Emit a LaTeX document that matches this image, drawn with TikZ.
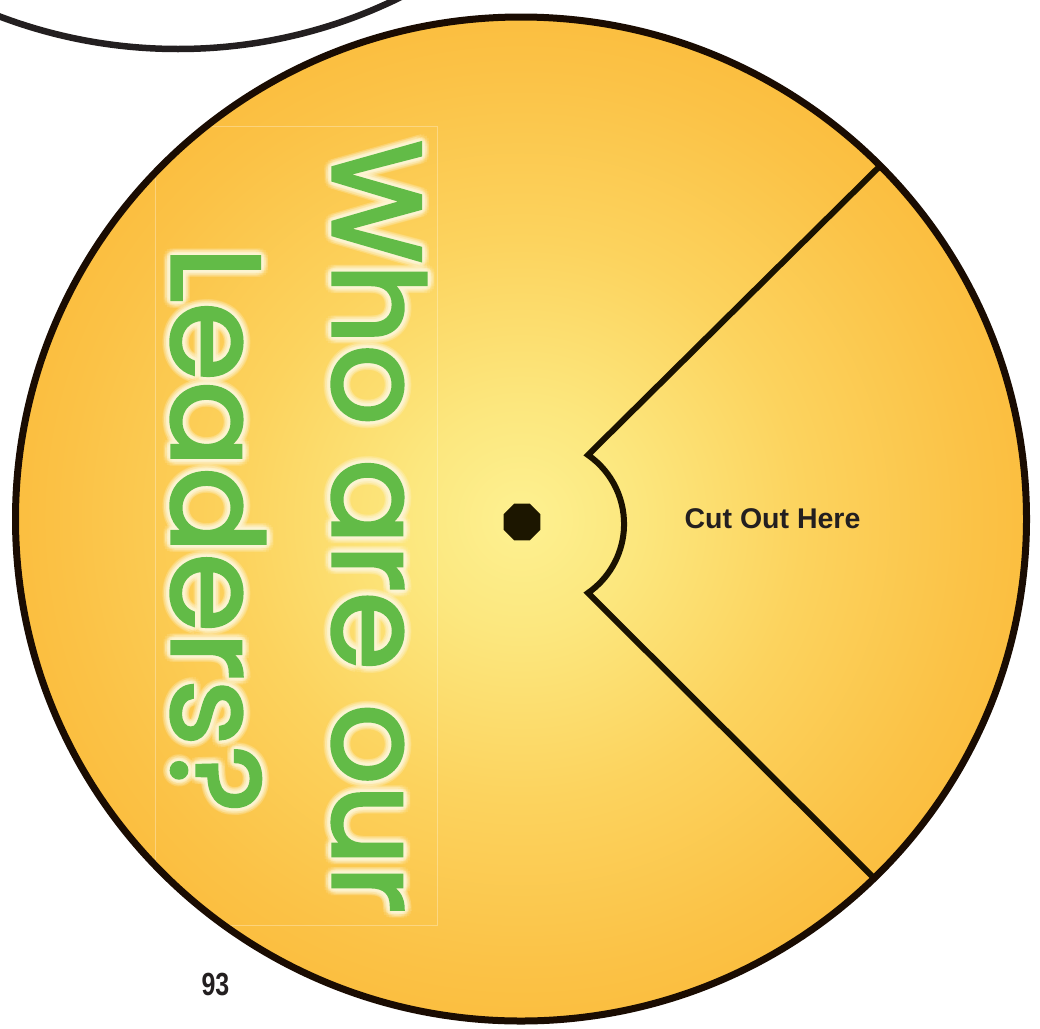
\documentclass[tikz,border=0pt]{standalone}
\usepackage{fontspec}
\setmainfont{Liberation Sans}
\newfontfamily\wfont{Poppins}[FakeBold=2.5]
\usetikzlibrary{shapes.geometric}
\definecolor{rimc}{HTML}{1A0C02}
\definecolor{arcc}{HTML}{231F20}
\definecolor{leafg}{HTML}{62BB47}
\definecolor{glowc}{HTML}{FFF7D6}
\definecolor{inkc}{HTML}{231F20}
\definecolor{dotc}{HTML}{1C1600}
\definecolor{wedgec}{HTML}{1A1200}
\definecolor{gza}{HTML}{FDF191}
\definecolor{gzb}{HTML}{FCE77E}
\definecolor{gzc}{HTML}{FCD35E}
\definecolor{gzd}{HTML}{FBC246}
\definecolor{gze}{HTML}{FAB835}
\definecolor{gzf}{HTML}{FAB532}
\pgfdeclareradialshading{wheelglow}{\pgfpoint{0bp}{0bp}}{color(0bp)=(gza); color(5.7bp)=(gzb); color(14bp)=(gzc); color(22.6bp)=(gzd); color(29.7bp)=(gze); color(35.4bp)=(gzf); color(50bp)=(gzf)}
\newcommand{\WhoLine}{\resizebox{772pt}{93pt}{\wfont Who are our}}
\newcommand{\LeadLine}{\resizebox{565pt}{93pt}{\wfont Leaders?}}
\begin{document}
\begin{tikzpicture}[x=1pt,y=-1pt,
  wtxt/.style={rotate=-90, anchor=base west, inner sep=0pt, outer sep=0pt},
  wedgeline/.style={draw=wedgec, line width=6pt, line join=miter},
  rimline/.style={draw=rimc, line width=7pt}]
\useasboundingbox (0,0) rectangle (1040,1028);
\fill[white] (0,0) rectangle (1040,1028);
% neighbouring wheel
\draw[arcc, line width=6.5pt] (178,-454) circle[radius=503];
% wheel face
\shade[shading=wheelglow] (521,519) ellipse[x radius=503, y radius=500];
\draw[white, opacity=0.3, line width=0.8pt] (155,126) rectangle (437,925);
% glow
\foreach \a in {0,24,...,336}{
  \node[wtxt, text=glowc, text opacity=0.14, name=gwa\a] at ([shift={(\a:7)}]333,140) {\WhoLine};
  \node[wtxt, text=glowc, text opacity=0.14, name=gla\a] at ([shift={(\a:7)}]172,247) {\LeadLine};
}
\foreach \a in {0,24,...,336}{
  \node[wtxt, text=glowc, text opacity=0.3, name=gwb\a] at ([shift={(\a:3.5)}]333,140) {\WhoLine};
  \node[wtxt, text=glowc, text opacity=0.3, name=glb\a] at ([shift={(\a:3.5)}]172,247) {\LeadLine};
}
\node[wtxt, text=leafg] (who) at (333,140) {\WhoLine};
\node[wtxt, text=leafg] (lead) at (172,247) {\LeadLine};
% wedge
\coordinate (wt) at (878,168);
\coordinate (wa) at (588,455);
\coordinate (wl) at (874,878);
\draw[wedgeline] (wt) -- (wa) arc[start angle=-55.2, end angle=55.2, radius=84] -- (wl);
% hub
\node[regular polygon, regular polygon sides=8, minimum size=40pt, fill=dotc, inner sep=0pt] (hub) at (522,522) {};
% rim
\draw[rimline] (521,519) ellipse[x radius=505.5, y radius=502];
% labels
\node[font=\bfseries\fontsize{28.5}{30}\selectfont, text=inkc, anchor=base, inner sep=0pt] (cut) at (772.5,528) {Cut Out Here};
\node[font=\bfseries\fontsize{32}{34}\selectfont, text=inkc, anchor=base, inner sep=0pt] (pg) at (215.5,995) {\scalebox{0.78}[1]{93}};
\end{tikzpicture}
\end{document}
